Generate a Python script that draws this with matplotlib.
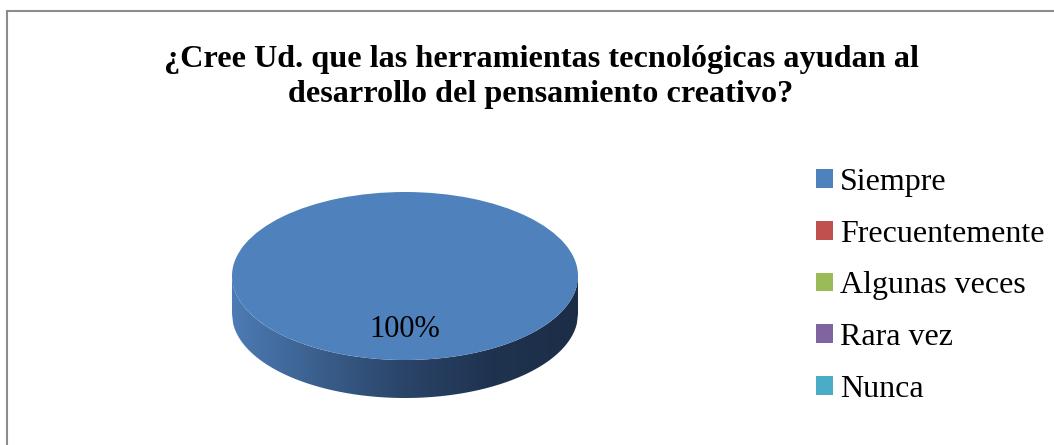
import numpy as np
import matplotlib
matplotlib.use("Agg")
import matplotlib.pyplot as plt
from matplotlib.patches import Polygon, Rectangle
from matplotlib.colors import LinearSegmentedColormap

# data
categories = ["Siempre", "Frecuentemente", "Algunas veces", "Rara vez", "Nunca"]
values = [100, 0, 0, 0, 0]
colors = ["#4F81BD", "#C0504D", "#9BBB59", "#8064A2", "#4BACC6"]
title = "¿Cree Ud. que las herramientas tecnológicas ayudan al\ndesarrollo del pensamiento creativo?"

W, H = 1054, 445
fig = plt.figure(figsize=(W / 100, H / 100), dpi=100)
fig.patch.set_facecolor("white")

# chart frame (only top/left visible in the crop)
fig.add_artist(Rectangle((7 / W, -0.1), 1.2, (H - 11) / H + 0.1, transform=fig.transFigure,
                         fill=False, edgecolor="#8c8c8c", linewidth=1.5))

fig.text(541 / W, (H - 77) / H, title, ha="center", va="center", fontsize=23.2,
         fontweight="bold", family="Liberation Serif", linespacing=1.3)

# pie axes in pixel terms: center (405, 276), rx 173, ry 84, depth 38
cx, cy, rx, ry = 405, H - 276, 173, 84
depth = 38 / ry
x0, x1 = -1.2, 1.2
y0, y1 = -1.0 - depth - 0.2, 1.2
ax = fig.add_axes([(cx + x0 * rx) / W, (cy + y0 * ry) / H,
                   (x1 - x0) * rx / W, (y1 - y0) * ry / H])

def pct(p):
    return "%d%%" % round(p) if p > 0 else ""

wedges, texts, autotexts = ax.pie(values, colors=colors, startangle=90, counterclock=False,
                                  autopct=pct, pctdistance=0.64,
                                  wedgeprops=dict(linewidth=0, zorder=3),
                                  textprops=dict(fontsize=22, family="Liberation Serif"))
ax.set_aspect("auto")
ax.set_xlim(x0, x1)
ax.set_ylim(y0, y1)
ax.axis("off")
for t in autotexts:
    t.set_zorder(5)

# side of the 3D pie: band under the lower half of the ellipse
r = wedges[0].r
xs = np.linspace(-r, r, 300)
lower = -np.sqrt(np.clip(r ** 2 - xs ** 2, 0, None))
verts = np.vstack([np.column_stack([xs, lower]),
                   np.column_stack([xs[::-1], lower[::-1] - depth])])
side = Polygon(verts, closed=True, facecolor="none", edgecolor="none")
ax.add_patch(side)
cmap = LinearSegmentedColormap.from_list("side", ["#4d7bb4", "#3a5f8d", "#2a4468", "#1f3350", "#1c2d46"])
grad = np.linspace(0, 1, 256).reshape(1, -1)
im = ax.imshow(grad, cmap=cmap, extent=[-r, r, -r - depth, 0], aspect="auto", zorder=1)
im.set_clip_path(side)

leg = fig.legend(wedges, categories, loc="upper left", bbox_to_anchor=(816 / W, (H - 168) / H),
                 frameon=False, handlelength=0.53, handleheight=0.53, handletextpad=0.22,
                 labelspacing=0.71, borderpad=0, borderaxespad=0,
                 prop=dict(family="Liberation Serif", size=23))

fig.savefig("out.png", dpi=100, facecolor="white")
